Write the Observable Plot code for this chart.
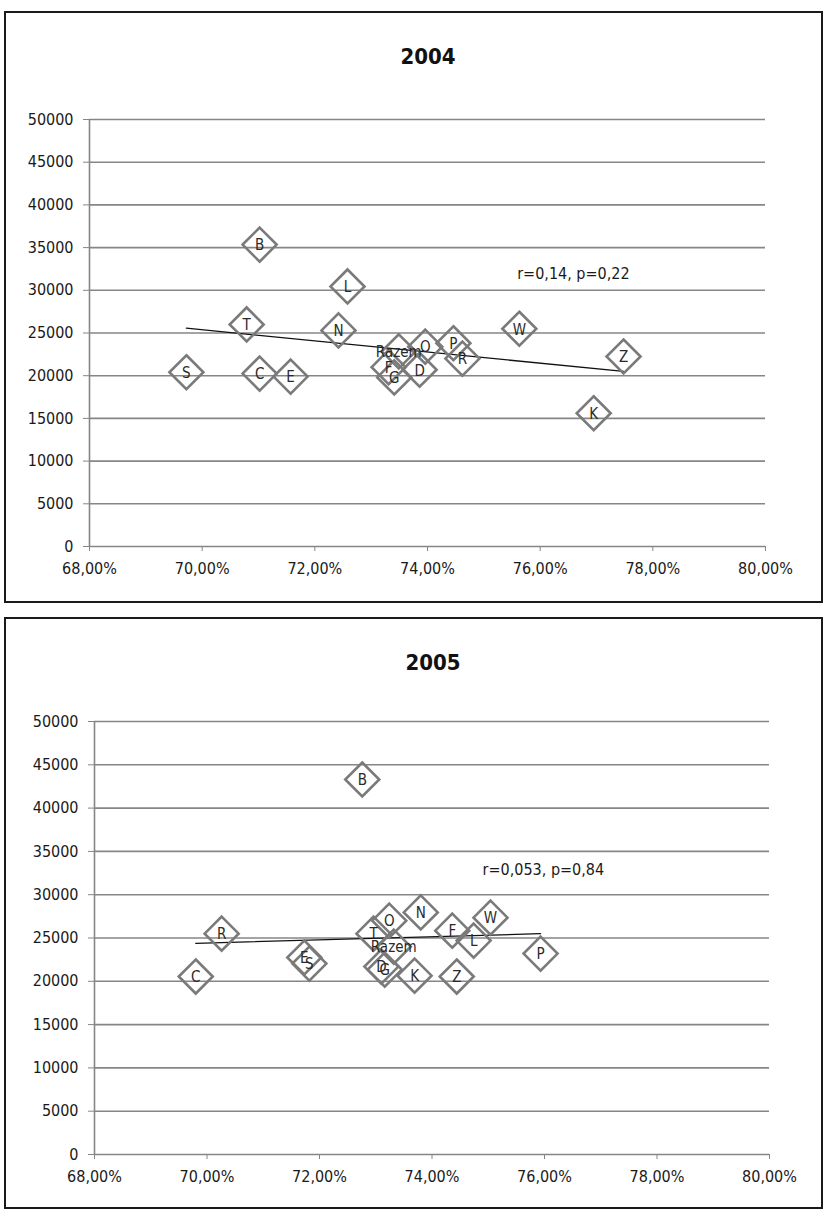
<!DOCTYPE html>
<html>
<head>
<meta charset="utf-8">
<script src="https://cdn.jsdelivr.net/npm/d3@7"></script>
<script src="https://cdn.jsdelivr.net/npm/@observablehq/plot@0.6"></script>
<style>
  html, body { margin: 0; padding: 0; background: #fff; }
  body { width: 825px; height: 1220px; position: relative; overflow: hidden;
         font-family: "Liberation Sans Narrow", "DejaVu Sans Condensed", "Liberation Sans", sans-serif; }
  .box { position: absolute; box-sizing: border-box; border: 2px solid #1a1a1a; }
  .title { position: absolute; text-align: center; font-size: 22px; font-weight: bold; color: #111; line-height: 26px; }
  .chart { position: absolute; }
  .chart svg { overflow: visible; }
  .chart .tick line, .chart g[aria-label$="-axis tick"] { stroke: #868686; }
</style>
</head>
<body>
<div class="box" style="left:4px;top:11px;width:819px;height:592px;"></div>
<div class="title" style="left:0;top:44px;width:856px;">2004</div>
<div class="chart" id="c2004" style="left:7px;top:100px;"></div>

<div class="box" style="left:4px;top:617px;width:819px;height:592px;"></div>
<div class="title" style="left:0;top:650px;width:866px;">2005</div>
<div class="chart" id="c2005" style="left:7px;top:700px;"></div>

<script>
// ---- data ----
const xTicks = [68, 70, 72, 74, 76, 78, 80];
const yTicks = [0, 5000, 10000, 15000, 20000, 25000, 30000, 35000, 40000, 45000, 50000];

const labels2004 = ["S", "C", "E", "T", "B", "L", "N", "F", "G", "Razem", "O", "D", "P", "R", "W", "Z", "K"];
const share2004  = [69.72, 71.02, 71.57, 70.79, 71.02, 72.58, 72.42, 73.31, 73.41, 73.49, 73.96, 73.86, 74.46, 74.62, 75.63, 77.48, 76.95];
const value2004  = [20400, 20250, 19900, 26000, 35350, 30450, 25300, 21000, 19800, 22850, 23400, 20700, 23800, 22000, 25500, 22250, 15600];
const note2004 = "r=0,14, p=0,22";

const labels2005 = ["B", "R", "C", "E", "S", "T", "O", "N", "G", "D", "K", "Z", "F", "L", "W", "P", "Razem"];
const share2005  = [72.76, 70.26, 69.80, 71.73, 71.82, 72.96, 73.24, 73.80, 73.16, 73.10, 73.69, 74.44, 74.36, 74.74, 75.04, 75.93, 73.32];
const value2005  = [43300, 25500, 20550, 22750, 22050, 25500, 27000, 27950, 21350, 21700, 20650, 20550, 25850, 24700, 27350, 23200, 24000];
const note2005 = "r=0,053, p=0,84";

// ---- helpers ----
const fontFamily = '"Liberation Sans Narrow", "DejaVu Sans Condensed", "Liberation Sans", sans-serif';
const grid = "#868686";
const pct = d => d.toFixed(2).replace(".", ",") + "%";
const diamond = {
  draw(ctx, size) {
    const h = Math.sqrt(size / Math.PI);
    ctx.moveTo(0, -h); ctx.lineTo(h, 0); ctx.lineTo(0, h); ctx.lineTo(-h, 0); ctx.closePath();
  }
};

function build(labels, share, value, note, notePos, opts) {
  const pts = labels.map((name, i) => ({name, x: share[i], y: value[i]}));
  const regr = pts.filter(d => d.name !== "Razem");
  return Plot.plot({
    width: 814,
    height: opts.height,
    marginLeft: opts.ml, marginRight: opts.mr, marginTop: opts.mt, marginBottom: opts.mb,
    style: {fontFamily, fontSize: "16px", color: "#1a1a1a", background: "transparent"},
    x: {domain: [68, 80], ticks: xTicks, tickFormat: pct, tickSize: 5, tickPadding: 11, label: null},
    y: {domain: [0, 50000], ticks: yTicks, tickFormat: d => String(d), tickSize: 6, tickPadding: 10, label: null},
    marks: [
      Plot.ruleY(yTicks.filter(d => d > 0), {stroke: grid, strokeWidth: 1.6}),
      Plot.ruleY([0], {stroke: grid, strokeWidth: 1.6}),
      Plot.ruleX([68], {stroke: grid, strokeWidth: 1.6}),
      Plot.linearRegressionY(regr, {x: "x", y: "y", ci: 0, stroke: "#111", strokeWidth: 1.3}),
      Plot.dot(pts, {x: "x", y: "y", symbol: diamond, r: 17, fill: "none", stroke: "#7a7a7a", strokeWidth: 2.6}),
      Plot.text(pts, {x: "x", y: "y", text: "name", fontSize: 15, fill: "#2a2a2a", dy: 1}),
      Plot.text([note], {x: notePos[0], y: notePos[1], text: d => d, fontSize: 16, fill: "#1a1a1a"})
    ]
  });
}

document.getElementById("c2004").appendChild(
  build(labels2004, share2004, value2004, note2004, [76.59, 31950], {height: 500, ml: 82, mr: 56, mt: 19, mb: 54})
);
document.getElementById("c2005").appendChild(
  build(labels2005, share2005, value2005, note2005, [75.98, 32900], {height: 506, ml: 87, mr: 52, mt: 21, mb: 52})
);
</script>
</body>
</html>
